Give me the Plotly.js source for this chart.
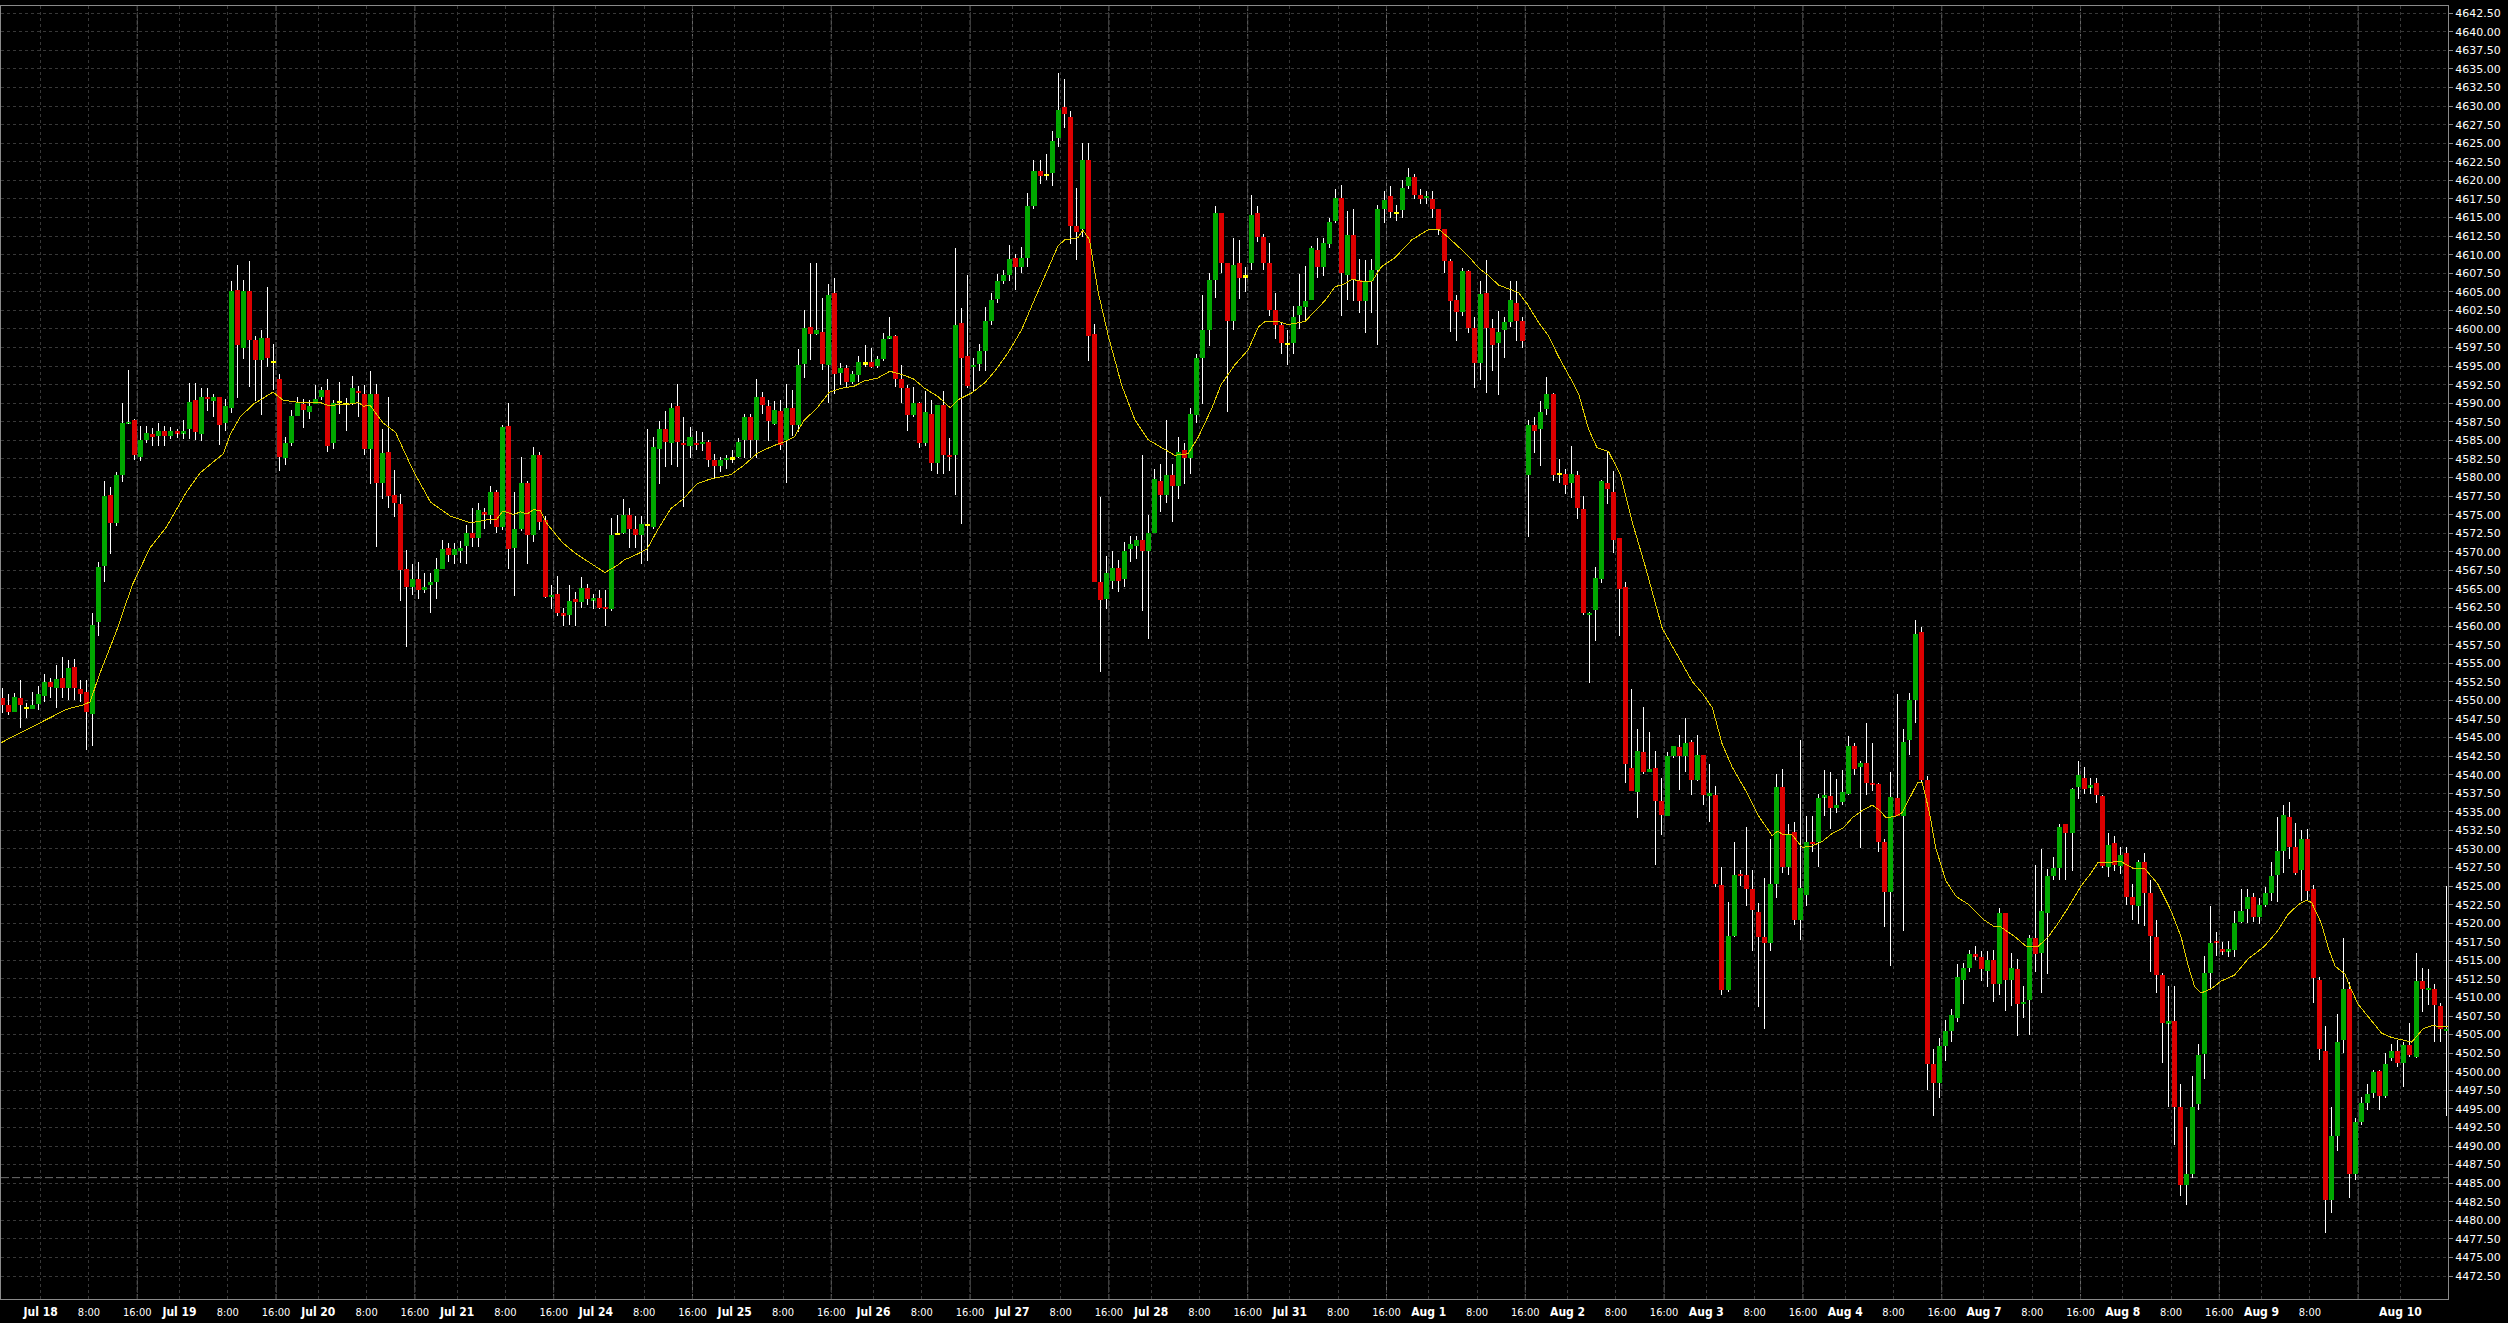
<!DOCTYPE html>
<html><head><meta charset="utf-8">
<script src="https://cdn.plot.ly/plotly-3.0.1.min.js"></script>
<style>
html,body{margin:0;padding:0;background:#000;overflow:hidden;}
#chart{width:2508px;height:1323px;}
.scatterlayer .js-line{shape-rendering:crispEdges;}
</style></head><body><div id="chart"></div>
<script>
// ---- Hourly OHLC bars (bar index 0 = Jul 17 17:00 session hour) ----
const openP = [
4550.3,4549.4,4548.5,4550.3,4549.0,4548.9,4549.5,4550.6,4552.5,4551.6,4553.0,4551.6,4554.5,4551.5,4551.1,4548.1,4560.5,4568.1,4577.7,4573.9,
4580.3,4587.3,4587.8,4582.7,4585.0,4585.8,4585.6,4586.2,4585.6,4586.2,4586.0,4586.5,4590.5,4585.9,4590.8,4590.3,4590.8,4587.3,4589.4,4605.3,
4597.5,4605.1,4598.5,4595.8,4598.8,4595.6,4593.2,4582.6,4584.7,4588.3,4589.9,4588.8,4589.9,4590.8,4591.8,4584.6,4590.2,4589.9,4590.0,4591.7,
4591.3,4583.8,4591.3,4579.3,4583.5,4577.7,4576.5,4567.7,4565.2,4566.3,4564.8,4565.6,4566.0,4567.7,4570.5,4569.6,4570.1,4570.8,4572.5,4571.8,
4575.3,4575.0,4578.1,4573.3,4587.0,4570.5,4573.1,4579.3,4572.2,4583.0,4574.3,4564.0,4564.3,4561.7,4561.5,4563.6,4563.2,4565.1,4563.5,4563.8,
4562.5,4562.3,4572.4,4572.6,4575.0,4573.1,4572.2,4573.6,4573.3,4583.9,4586.5,4584.7,4589.6,4584.6,4584.2,4584.6,4584.5,4584.8,4582.4,4581.6,
4582.4,4582.6,4582.7,4585.0,4588.2,4585.0,4590.8,4589.6,4587.2,4588.9,4585.0,4589.4,4587.1,4595.3,4600.2,4599.3,4599.6,4595.2,4604.8,4594.1,
4594.8,4592.9,4593.8,4595.4,4595.6,4595.0,4595.9,4598.8,4599.0,4593.2,4592.1,4588.4,4590.0,4584.6,4588.5,4581.9,4589.7,4583.0,4583.1,4600.8,
4596.3,4594.9,4595.3,4597.1,4601.1,4604.1,4606.5,4607.2,4609.5,4608.4,4609.5,4616.6,4621.3,4620.8,4621.0,4625.7,4629.9,4628.5,4613.8,4613.4,
4622.8,4599.3,4565.9,4563.7,4566.1,4567.8,4566.4,4570.4,4570.8,4571.6,4570.1,4572.6,4579.6,4577.6,4580.3,4578.9,4583.7,4582.6,4588.4,4596.1,
4599.9,4606.6,4615.6,4608.9,4601.1,4608.9,4607.1,4608.9,4615.6,4612.4,4608.9,4602.6,4600.6,4598.0,4598.1,4601.9,4602.9,4603.9,4610.6,4608.3,
4611.4,4614.5,4617.6,4607.2,4612.7,4606.6,4603.8,4606.5,4608.0,4616.1,4617.9,4615.6,4616.0,4619.2,4620.5,4618.1,4617.7,4617.5,4616.1,4613.4,
4609.2,4603.9,4602.3,4607.8,4600.1,4595.4,4604.9,4600.1,4598.1,4599.9,4600.9,4603.5,4601.1,4580.3,4587.1,4586.5,4589.2,4591.3,4580.5,4580.5,
4579.2,4580.3,4575.7,4561.5,4562.1,4566.4,4579.2,4578.0,4571.8,4565.2,4540.9,4537.6,4543.1,4540.4,4540.9,4536.4,4534.4,4542.5,4543.7,4542.5,
4544.4,4539.3,4542.6,4537.1,4537.3,4525.2,4511.0,4518.3,4526.6,4526.5,4524.6,4521.5,4518.1,4517.4,4525.3,4538.4,4527.6,4532.3,4520.4,4523.8,
4530.9,4530.9,4537.0,4537.1,4535.5,4536.3,4537.4,4543.8,4541.0,4541.6,4538.9,4538.7,4531.0,4524.2,4536.9,4534.4,4544.6,4550.0,4559.2,4539.3,
4501.0,4498.5,4503.5,4505.5,4507.3,4512.4,4514.0,4515.8,4515.5,4513.6,4515.0,4511.8,4521.4,4512.4,4513.8,4509.2,4509.6,4518.0,4516.0,4521.4,
4526.4,4527.4,4533.3,4532.1,4538.4,4539.5,4538.4,4538.9,4537.1,4527.6,4530.8,4527.7,4529.5,4523.5,4522.3,4528.2,4524.1,4518.1,4513.0,4506.6,
4506.8,4495.3,4484.8,4486.2,4495.6,4502.4,4513.3,4517.6,4516.4,4516.3,4516.4,4520.2,4521.9,4523.5,4520.8,4522.4,4524.1,4526.5,4529.7,4534.3,
4530.3,4527.1,4531.3,4524.6,4512.4,4502.8,4482.8,4491.4,4504.3,4511.2,4486.3,4493.2,4495.8,4497.1,4500.1,4496.8,4501.9,4502.8,4501.2,4503.6,
4502.0,4512.2,4511.1,4511.2,4508.8,4505.6];
const highP = [
4551.7,4550.8,4551.0,4552.8,4549.7,4551.1,4552.0,4553.5,4553.0,4554.7,4555.9,4555.4,4555.6,4552.8,4552.8,4561.7,4568.6,4579.5,4578.7,4580.8,
4590.0,4594.5,4587.9,4586.9,4587.0,4586.7,4587.3,4587.0,4586.8,4586.5,4587.8,4592.7,4592.7,4592.1,4592.0,4591.3,4590.9,4590.6,4606.5,4608.6,
4606.6,4609.2,4599.0,4599.8,4605.7,4598.0,4594.0,4585.5,4589.1,4590.8,4590.6,4590.4,4592.4,4592.2,4593.2,4590.4,4592.8,4590.7,4593.7,4592.3,
4592.5,4594.3,4592.6,4586.5,4590.8,4581.0,4577.8,4570.3,4568.3,4568.6,4567.1,4567.1,4569.2,4571.6,4571.2,4571.2,4571.5,4573.6,4575.9,4576.6,
4575.9,4578.8,4578.3,4587.1,4590.0,4578.0,4582.7,4579.5,4584.1,4583.5,4574.8,4565.6,4566.8,4562.5,4565.6,4564.6,4566.6,4565.7,4564.3,4564.9,
4564.9,4574.5,4574.9,4577.1,4575.9,4574.8,4574.8,4586.5,4585.4,4587.6,4589.0,4590.0,4592.6,4588.1,4586.8,4586.3,4586.1,4585.1,4583.2,4582.7,
4583.0,4583.7,4585.3,4588.6,4588.6,4593.3,4591.5,4590.4,4590.3,4590.5,4592.6,4591.8,4597.3,4602.6,4608.9,4608.9,4604.2,4606.0,4606.8,4595.4,
4595.2,4594.3,4596.3,4597.8,4597.5,4596.3,4599.5,4601.6,4599.2,4595.2,4592.5,4592.2,4590.2,4591.7,4590.4,4589.7,4591.6,4585.3,4610.9,4602.8,
4607.3,4596.1,4598.0,4602.9,4604.9,4607.4,4607.9,4611.3,4610.1,4611.0,4618.3,4622.8,4622.8,4623.5,4626.7,4634.5,4633.6,4629.4,4619.0,4625.0,
4625.0,4600.7,4577.4,4569.5,4570.1,4568.9,4571.3,4572.1,4572.1,4583.1,4574.9,4581.2,4581.8,4587.8,4581.8,4585.4,4584.7,4589.3,4596.6,4604.6,
4607.5,4616.6,4615.6,4608.9,4612.2,4612.0,4608.4,4618.1,4616.6,4612.8,4611.6,4604.9,4601.0,4599.8,4603.1,4607.4,4608.5,4611.2,4612.2,4612.2,
4615.0,4618.9,4619.4,4615.9,4616.1,4609.4,4609.3,4609.4,4616.7,4618.6,4619.2,4616.7,4620.1,4621.7,4620.8,4618.8,4618.6,4618.6,4616.1,4613.4,
4609.4,4604.6,4608.2,4607.9,4601.6,4606.4,4609.3,4601.4,4602.4,4601.6,4606.4,4606.5,4601.6,4587.8,4588.1,4590.3,4593.5,4591.4,4582.5,4581.2,
4584.3,4580.9,4577.5,4561.9,4568.0,4579.7,4583.5,4580.9,4571.8,4565.9,4551.5,4546.1,4549.1,4545.7,4543.2,4539.5,4543.1,4543.9,4545.3,4547.6,
4544.7,4545.3,4542.7,4541.4,4538.5,4527.6,4522.8,4530.9,4527.1,4532.9,4527.1,4522.7,4526.1,4531.4,4540.1,4540.7,4533.4,4533.6,4544.6,4534.4,
4534.4,4537.4,4540.6,4540.4,4539.4,4540.6,4545.2,4544.2,4541.8,4547.0,4544.2,4538.9,4531.4,4540.4,4550.8,4546.1,4551.0,4560.8,4559.9,4539.8,
4503.0,4504.5,4507.0,4508.5,4514.5,4514.6,4516.4,4517.0,4516.3,4516.3,4516.4,4522.0,4521.4,4516.0,4515.2,4511.5,4518.4,4527.9,4530.0,4527.3,
4528.9,4533.3,4533.4,4538.2,4541.9,4541.0,4539.5,4539.6,4537.2,4532.2,4531.8,4530.3,4530.3,4525.3,4528.5,4529.4,4525.8,4520.4,4513.3,4511.6,
4511.6,4498.4,4492.6,4499.4,4503.7,4515.6,4522.3,4518.8,4517.5,4517.6,4521.7,4524.6,4524.6,4524.1,4523.4,4524.9,4528.2,4534.3,4535.9,4536.3,
4533.5,4532.5,4532.7,4525.2,4512.7,4506.1,4495.3,4507.8,4518.0,4512.1,4493.8,4496.6,4498.4,4500.2,4500.2,4502.5,4503.7,4504.3,4504.0,4506.6,
4516.0,4514.0,4513.8,4511.8,4509.2,4525.0];
const lowP = [
4548.3,4548.0,4548.4,4546.3,4547.6,4548.8,4548.7,4549.8,4550.3,4549.0,4550.3,4550.0,4550.0,4549.8,4543.3,4543.8,4558.7,4566.0,4569.7,4573.5,
4579.4,4587.2,4582.3,4582.2,4584.7,4584.3,4584.3,4584.3,4585.2,4585.3,4585.2,4585.2,4585.0,4584.9,4588.9,4588.2,4584.4,4586.3,4588.7,4590.7,
4596.0,4592.2,4590.3,4588.4,4594.9,4591.8,4580.9,4581.7,4584.3,4588.3,4586.7,4587.9,4589.9,4590.4,4583.5,4583.9,4588.5,4586.3,4589.7,4588.2,
4583.1,4579.1,4570.6,4577.1,4575.9,4574.7,4563.4,4557.2,4564.2,4563.7,4564.5,4561.7,4563.7,4567.7,4568.6,4568.4,4568.5,4568.3,4570.7,4570.7,
4573.1,4573.8,4572.6,4572.9,4567.7,4564.0,4572.8,4568.3,4571.3,4572.9,4563.8,4562.3,4561.3,4560.0,4560.1,4560.0,4562.5,4562.8,4562.3,4562.3,
4560.0,4562.0,4572.2,4572.4,4570.5,4570.5,4568.3,4568.7,4573.1,4579.1,4581.4,4581.7,4581.4,4576.0,4582.6,4583.7,4583.6,4581.4,4579.9,4580.7,
4581.1,4581.9,4582.6,4582.6,4582.6,4582.6,4588.5,4584.9,4587.1,4583.7,4579.2,4585.6,4586.1,4593.4,4595.8,4599.2,4594.5,4590.0,4591.2,4592.4,
4592.1,4592.6,4592.8,4594.9,4594.8,4594.8,4595.7,4598.7,4592.2,4590.0,4586.2,4588.2,4584.0,4584.3,4580.9,4580.5,4580.5,4580.9,4577.7,4573.8,
4592.0,4591.7,4594.3,4594.3,4600.5,4603.5,4606.0,4606.5,4605.3,4607.5,4608.3,4616.1,4619.5,4620.0,4619.3,4624.5,4627.0,4611.5,4609.3,4612.4,
4595.7,4565.9,4553.8,4562.3,4565.0,4564.6,4565.2,4568.6,4569.1,4562.0,4558.2,4572.5,4575.4,4576.6,4574.0,4577.1,4579.1,4580.5,4587.4,4589.9,
4597.7,4604.2,4607.5,4588.8,4599.9,4604.0,4605.0,4607.9,4611.7,4608.0,4601.7,4598.7,4596.6,4595.2,4596.6,4600.0,4601.0,4603.9,4606.9,4607.1,
4610.9,4614.2,4601.7,4603.9,4603.8,4602.1,4599.5,4602.1,4597.9,4614.2,4614.9,4614.6,4614.9,4618.9,4617.5,4616.8,4616.8,4615.0,4612.6,4607.5,
4599.6,4598.4,4601.8,4599.4,4592.0,4593.1,4591.4,4594.3,4591.1,4596.1,4600.3,4598.4,4597.4,4572.0,4583.3,4581.5,4588.4,4579.5,4579.2,4577.8,
4577.2,4574.4,4561.5,4552.3,4558.0,4565.8,4576.5,4569.9,4558.6,4538.9,4537.8,4534.2,4540.1,4540.3,4527.8,4531.9,4534.4,4542.3,4537.9,4540.4,
4537.2,4539.2,4535.9,4533.6,4524.9,4510.4,4510.8,4518.1,4525.0,4522.3,4516.3,4508.7,4505.7,4516.3,4523.4,4526.8,4526.5,4519.7,4517.8,4522.3,
4529.6,4527.6,4534.4,4532.7,4534.9,4535.9,4537.2,4540.0,4530.1,4537.2,4537.8,4529.6,4519.5,4514.2,4534.4,4518.9,4542.7,4546.9,4538.9,4497.5,
4494.0,4496.5,4501.5,4504.0,4506.7,4509.1,4513.4,4515.1,4512.2,4511.4,4509.4,4510.4,4508.2,4508.8,4504.8,4507.2,4505.0,4513.4,4510.6,4513.2,
4525.8,4525.8,4525.8,4527.0,4536.7,4537.4,4537.4,4536.2,4527.4,4526.2,4527.0,4526.6,4522.5,4520.5,4519.9,4519.6,4513.4,4510.6,4501.2,4495.2,
4490.2,4483.3,4482.1,4485.7,4494.8,4499.0,4511.2,4515.6,4515.7,4515.4,4515.4,4520.0,4520.0,4520.2,4519.9,4522.2,4523.0,4522.8,4526.8,4528.6,
4526.5,4523.0,4523.0,4509.2,4501.6,4478.3,4481.0,4489.3,4502.5,4483.0,4485.4,4492.8,4494.8,4496.5,4494.8,4496.5,4501.4,4500.7,4498.0,4502.0,
4501.8,4508.0,4509.0,4504.0,4504.0,4494.1];
const closeP = [
4549.4,4548.5,4550.5,4549.4,4549.0,4549.4,4550.9,4552.5,4551.8,4552.9,4551.6,4554.4,4551.6,4550.8,4548.4,4560.2,4568.0,4577.5,4573.9,4580.3,
4587.3,4587.5,4583.0,4585.0,4586.0,4585.5,4586.2,4585.6,4586.2,4586.0,4586.2,4590.2,4586.1,4590.8,4590.6,4590.8,4587.1,4589.6,4605.1,4597.8,
4605.1,4598.5,4595.8,4598.8,4596.1,4595.6,4582.7,4584.7,4588.3,4590.0,4589.1,4589.6,4590.6,4591.8,4584.3,4590.1,4590.2,4589.9,4592.0,4591.4,
4583.8,4591.3,4579.3,4583.3,4577.5,4576.6,4567.6,4565.2,4566.3,4564.8,4565.2,4566.0,4567.7,4570.4,4569.6,4570.4,4570.5,4572.5,4571.8,4575.6,
4575.1,4578.0,4573.3,4586.8,4570.4,4573.1,4579.3,4572.2,4583.0,4574.0,4563.9,4564.2,4561.7,4561.5,4563.4,4563.2,4565.1,4563.6,4563.7,4562.5,
4562.4,4572.2,4572.4,4575.0,4573.1,4572.2,4573.7,4573.6,4584.1,4586.5,4584.8,4589.4,4584.8,4584.4,4585.5,4584.5,4584.8,4582.4,4581.6,4582.4,
4582.6,4582.6,4584.8,4588.2,4585.0,4590.8,4589.7,4587.6,4589.1,4584.4,4589.4,4587.1,4595.2,4600.1,4599.3,4599.8,4595.3,4604.6,4593.9,4594.8,
4592.9,4594.0,4595.6,4595.4,4594.9,4596.0,4598.7,4599.0,4593.2,4592.0,4588.4,4590.0,4584.6,4588.8,4581.9,4589.7,4583.1,4582.8,4600.5,4596.1,
4592.3,4595.1,4597.0,4601.1,4603.9,4606.4,4607.2,4609.4,4608.4,4609.5,4616.6,4621.3,4620.6,4620.8,4625.3,4629.5,4628.9,4613.9,4613.1,4622.8,
4599.1,4565.9,4563.5,4567.2,4567.8,4566.1,4570.1,4571.1,4571.6,4570.1,4572.6,4579.8,4577.6,4580.3,4578.9,4583.4,4582.6,4588.6,4596.1,4599.9,
4606.6,4615.6,4608.9,4601.1,4608.6,4606.9,4607.1,4615.3,4612.4,4608.9,4602.6,4600.6,4598.1,4598.0,4601.6,4603.1,4603.7,4610.9,4608.3,4611.6,
4614.4,4617.6,4607.5,4612.7,4606.6,4603.8,4606.5,4608.0,4616.1,4617.3,4615.7,4615.6,4619.0,4620.5,4618.1,4617.5,4617.9,4616.2,4613.4,4609.2,
4603.8,4602.3,4607.8,4600.1,4595.4,4604.7,4600.1,4597.9,4599.6,4600.9,4603.9,4601.1,4598.4,4587.1,4586.3,4588.8,4591.3,4580.4,4580.5,4579.0,
4580.5,4575.9,4561.7,4561.8,4566.5,4579.5,4578.4,4571.6,4565.0,4541.4,4537.8,4543.2,4540.4,4540.7,4536.4,4534.6,4542.5,4543.8,4542.5,4544.2,
4539.3,4542.6,4537.2,4537.5,4525.3,4511.0,4518.3,4526.5,4526.4,4524.6,4521.8,4518.1,4517.4,4525.3,4538.4,4527.6,4531.9,4520.4,4524.8,4530.9,
4530.6,4536.9,4537.2,4535.5,4535.9,4537.6,4543.8,4540.8,4541.6,4538.9,4538.7,4530.9,4524.2,4537.0,4534.4,4544.4,4550.0,4558.9,4539.3,4501.0,
4498.5,4503.5,4505.5,4507.6,4512.8,4514.0,4515.8,4515.6,4513.9,4515.0,4511.8,4521.4,4512.4,4514.0,4509.1,4509.4,4518.0,4515.8,4521.7,4526.4,
4527.4,4533.0,4532.1,4538.1,4540.0,4538.1,4538.5,4537.2,4527.7,4530.5,4527.9,4529.2,4523.5,4522.5,4528.2,4524.1,4518.3,4513.0,4506.6,4506.7,
4495.3,4484.8,4486.2,4495.3,4502.2,4513.3,4517.4,4517.5,4516.3,4516.4,4520.0,4521.7,4523.5,4520.8,4522.4,4524.1,4526.4,4529.7,4534.6,4530.3,
4526.8,4531.3,4524.4,4512.6,4503.1,4482.8,4491.4,4504.0,4511.2,4486.3,4493.2,4495.8,4497.0,4500.0,4496.8,4501.0,4502.8,4501.2,4503.6,4502.2,
4512.2,4511.2,4511.2,4509.0,4505.8,4505.7];

// ---- Moving average line, read at sample bar positions ----
const maBar = [-0.4,5,10.7,13.5,14.6,16.2,19,20.6,21.7,24.5,27.3,30.6,32.8,35,36.7,37.8,39.5,41.7,43.9,44.9,46.6,49.4,52.7,54.1,57.7,59.1,59.9,61,
63.2,65.2,68.2,71,74.3,77.6,80.4,82,83,84.8,85.9,87,88.1,89.2,90.3,92.8,95,97.5,99.9,102,103.1,105.3,106.9,108.6,110.8,113,115.2,117.4,120.8,
123,125.2,127.9,129.6,131.3,132.9,135.1,137.1,139,141.2,142.9,145.1,147.1,149,151,152.9,155.1,157.1,158.5,160.7,162.9,164.5,166.7,168.9,171.1,
173.3,175,176.1,178.3,179.1,180.2,181.6,183.3,185.5,187.7,189.9,192.1,194.3,196.5,198.2,200.4,202,204.3,206.5,208.2,209.3,211.5,213.1,215.9,
217.6,219.2,220.9,222.3,223.7,225.3,227,228.6,230.8,233.6,236.4,238.1,239.7,241.4,243,244.7,246.3,248,249.6,251.3,252.7,254.6,256.3,257.9,
260.2,261.3,262.9,264.3,266.2,268.2,270.1,272.3,275.1,277.9,280.1,281.7,283.4,285,286.7,288.9,291.1,293.3,294.2,295.2,296.6,298.3,299.9,
301.6,303.3,305.2,306.6,308.3,309.9,311.1,312.2,313.8,314.9,316,317.4,318.2,319.4,320.4,322.1,323.8,325.7,328.5,330.2,331.2,333.5,335.4,
337.4,339,340.6,342.3,344.5,346.2,347.3,348.9,351.1,353.3,355,357.2,359.4,361.1,362.2,363.3,364.4,366.1,367.7,369.9,372.2,374.9,377.1,
378.8,380.5,381.8,382.7,384.3,385.5,386.6,388.2,389.1,390.4,392.7,394.3,396,397.6,399.3,401.2,402.6,404.3,405.9];
const maValue = [4544.2,4546.4,4548.8,4549.4,4549.8,4553.6,4559.4,4563.2,4565.7,4570.5,4573.4,4578.1,4580.6,4582.1,4583.2,4585.8,4588.2,4589.9,
4591.0,4591.5,4590.4,4590.1,4590.1,4589.7,4589.9,4590.1,4589.6,4589.7,4587.3,4586.1,4580.8,4576.7,4574.8,4573.9,4574.3,4574.4,4575.5,4575.0,
4575.4,4575.1,4575.7,4575.5,4573.8,4571.3,4569.8,4568.5,4567.2,4568.2,4568.9,4569.7,4570.4,4572.9,4575.8,4577.2,4579.2,4579.8,4580.4,4581.7,
4583.3,4584.3,4584.8,4585.5,4587.7,4589.4,4591.5,4592.0,4592.3,4593.0,4593.4,4594.3,4593.9,4593.3,4592.0,4590.9,4589.4,4590.5,4591.4,4592.8,
4594.3,4596.8,4599.8,4604.0,4608.2,4611.2,4612.0,4612.3,4613.3,4612.0,4605.1,4599.1,4592.5,4587.8,4585.1,4584.0,4583.0,4583.2,4585.4,4589.2,
4592.5,4595.2,4597.2,4600.3,4601.0,4601.0,4600.6,4601.0,4602.4,4603.8,4605.7,4606.0,4606.7,4606.4,4606.4,4608.4,4609.6,4612.0,4613.4,4613.4,
4612.3,4611.0,4609.8,4608.2,4607.2,4605.9,4605.4,4604.9,4603.4,4600.9,4599.0,4596.3,4592.9,4591.1,4586.5,4584.0,4583.5,4580.3,4574.1,4568.0,
4559.7,4555.6,4552.5,4551.0,4549.0,4544.2,4541.0,4537.9,4534.4,4531.8,4532.4,4531.9,4531.9,4530.2,4530.4,4531.0,4532.1,4532.9,4534.2,4535.2,
4535.9,4535.2,4534.2,4534.4,4534.9,4536.7,4538.9,4538.9,4534.8,4530.2,4525.7,4523.6,4522.6,4520.4,4519.5,4519.5,4518.2,4516.9,4516.9,4518.1,
4519.9,4522.0,4525.0,4526.8,4528.2,4528.2,4528.3,4527.3,4527.4,4525.3,4521.7,4518.1,4514.4,4511.5,4510.6,4511.2,4512.2,4513.0,4515.2,4516.9,
4519.0,4521.2,4522.5,4523.1,4522.8,4520.0,4516.6,4514.2,4513.2,4511.4,4509.1,4506.8,4505.2,4504.6,4504.3,4504.0,4505.8,4506.2,4506.1,4506.1];

// ---- Axis labels ----
const dayLabels = ['Jul 18','Jul 19','Jul 20','Jul 21','Jul 24','Jul 25','Jul 26','Jul 27','Jul 28','Jul 31',
                   'Aug 1','Aug 2','Aug 3','Aug 4','Aug 7','Aug 8','Aug 9','Aug 10'];
const hourLabels = ['8:00','16:00'];
const unlabeledTicks = ['Aug 9 16:00'];
const priceTickFirst = 4472.5, priceTickLast = 4642.5, priceTickStep = 2.5;
const levelPrice = [4485.75];

// ---- layout constants ----
const FIRST_DAY_BAR = 6, BARS_PER_DAY = 23, HOUR_OFFSETS = [8,16], GRID_OFFSET = 0.41;
const X_RANGE = [-0.166, 405.30], Y_RANGE = [4469.41, 4643.48];
const UP = '#00a800', DOWN = '#dc0000', DOJI = '#ffff00', WICK = '#ffffff', MA = '#e0cc00';
const MIN_BODY = 0.24;

const idx = openP.map((_, i) => i);
const bodyBase = [], bodyLen = [], bodyColor = [];
const wx = [], wy = [];
idx.forEach(i => {
  const o = openP[i], c = closeP[i];
  let top = Math.max(o, c), bot = Math.min(o, c);
  if (top - bot < MIN_BODY) { const m = (top + bot) / 2; top = m + MIN_BODY / 2; bot = m - MIN_BODY / 2; }
  bodyBase.push(bot); bodyLen.push(top - bot);
  bodyColor.push(c > o ? UP : (c < o ? DOWN : DOJI));
  if (highP[i] > top) { wx.push(i, i, null); wy.push(top, highP[i], null); }
  if (lowP[i] < bot) { wx.push(i, i, null); wy.push(lowP[i], bot, null); }
});

const tickvals = [], ticktext = [], brightX = [];
dayLabels.forEach((lab, d) => {
  const start = FIRST_DAY_BAR + d * BARS_PER_DAY;
  tickvals.push(start + GRID_OFFSET);
  ticktext.push('<b><span style="font-size:12px">' + lab + '</span></b>');
  hourLabels.forEach((h, k) => {
    const b = start + HOUR_OFFSETS[k] + GRID_OFFSET;
    if (b > X_RANGE[1]) return;
    tickvals.push(b);
    ticktext.push(unlabeledTicks.includes(lab + ' ' + h) ? '' : h);
    if (h === '16:00') brightX.push(b);
  });
});

const yTickVals = [], yTickText = [];
for (let p = priceTickFirst; p <= priceTickLast + 1e-9; p += priceTickStep) {
  yTickVals.push(p); yTickText.push(p.toFixed(2));
}

const shapes = brightX.map(x => ({
  type: 'line', xref: 'x', yref: 'paper', x0: x, x1: x, y0: 0, y1: 1, layer: 'below',
  line: { color: '#686868', width: 1, dash: '5px,2px' }
}));
levelPrice.forEach(p => shapes.push({
  type: 'line', xref: 'paper', yref: 'y', x0: 0, x1: 1, y0: p, y1: p, layer: 'below',
  line: { color: '#6e6e6e', width: 1, dash: '8px,3px' }
}));

const traces = [
  { type: 'bar', x: idx, base: bodyBase, y: bodyLen, width: 0.83,
    marker: { color: bodyColor, line: { width: 0 } }, hoverinfo: 'skip' },
  { type: 'scatter', mode: 'lines', x: wx, y: wy, line: { color: WICK, width: 1 }, hoverinfo: 'skip', connectgaps: false },
  { type: 'scatter', mode: 'lines', x: maBar, y: maValue, line: { color: MA, width: 1 }, hoverinfo: 'skip' }
];

const layout = {
  width: 2508, height: 1323,
  paper_bgcolor: '#000000', plot_bgcolor: '#000000',
  margin: { l: 1, r: 60, t: 6, b: 24, pad: 0 },
  showlegend: false, barmode: 'overlay', bargap: 0,
  xaxis: {
    range: X_RANGE, tickmode: 'array', tickvals: tickvals, ticktext: ticktext, tickangle: 0,
    showgrid: true, gridcolor: '#383838', griddash: '3px,3px', gridwidth: 1,
    zeroline: false, showline: true, linecolor: '#8a8a8a', linewidth: 1, mirror: true,
    ticks: 'outside', ticklen: 3, tickcolor: 'rgba(0,0,0,0)',
    tickfont: { family: 'DejaVu Sans Condensed, DejaVu Sans, sans-serif', size: 11, color: '#ffffff' },
    fixedrange: true
  },
  yaxis: {
    range: Y_RANGE, side: 'right', tickmode: 'array', tickvals: yTickVals, ticktext: yTickText,
    showgrid: true, gridcolor: '#383838', griddash: '3px,3px', gridwidth: 1,
    zeroline: false, showline: true, linecolor: '#8a8a8a', linewidth: 1, mirror: true,
    ticks: 'outside', ticklen: 4, tickcolor: '#8a8a8a',
    tickfont: { family: 'DejaVu Sans, sans-serif', size: 11, color: '#ffffff' },
    fixedrange: true
  },
  shapes: shapes
};

Plotly.newPlot('chart', traces, layout, { displayModeBar: false, responsive: false });
</script>
</body></html>
